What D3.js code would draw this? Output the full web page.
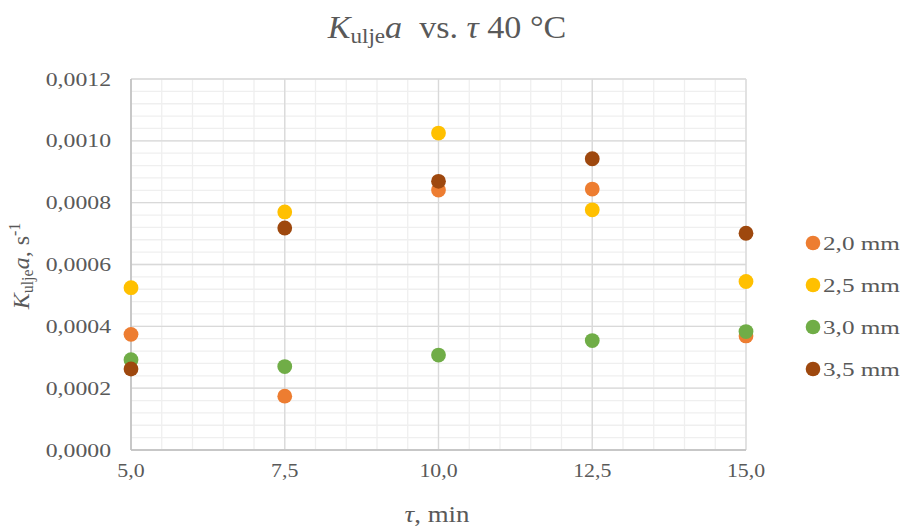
<!DOCTYPE html>
<html>
<head>
<meta charset="utf-8">
<script src="https://cdn.jsdelivr.net/npm/d3@7"></script>
<style>
  html, body { margin: 0; padding: 0; background: #ffffff; }
  svg { display: block; font-family: "Liberation Serif", "Times New Roman", serif; }
</style>
</head>
<body>
<svg id="chart" width="902" height="528"></svg>
<script>
// ---- data ----
const times = [5.0, 7.5, 10.0, 12.5, 15.0];
const seriesNames = ["2,0 mm", "2,5 mm", "3,0 mm", "3,5 mm"];
const seriesColors = ["#ED7D31", "#FFC000", "#70AD47", "#9E480E"];
const s20 = [0.000374, 0.000174, 0.000841, 0.000844, 0.000369];
const s25 = [0.000525, 0.000770, 0.001025, 0.000777, 0.000545];
const s30 = [0.000292, 0.000270, 0.000307, 0.000354, 0.000383];
const s35 = [0.000262, 0.000718, 0.000869, 0.000942, 0.000701];
const xTicks = [5.0, 7.5, 10.0, 12.5, 15.0];
const xTickLabels = ["5,0", "7,5", "10,0", "12,5", "15,0"];
const yTicks = [0, 0.0002, 0.0004, 0.0006, 0.0008, 0.0010, 0.0012];
const yTickLabels = ["0,0000", "0,0002", "0,0004", "0,0006", "0,0008", "0,0010", "0,0012"];

const allSeries = [s20, s25, s30, s35];

// ---- layout ----
const svg = d3.select("#chart");
const plot = { left: 131, right: 746, top: 79, bottom: 450 };
const x = d3.scaleLinear().domain([5, 15]).range([plot.left, plot.right]);
const y = d3.scaleLinear().domain([0, 0.0012]).range([plot.bottom, plot.top]);
const textColor = "#595959";

function stretchedText(g, px, py, sx, anchor) {
  return g.append("text")
    .attr("transform", `translate(${px},${py}) scale(${sx},1)`)
    .attr("text-anchor", anchor)
    .attr("fill", textColor);
}

// minor gridlines
const xMinor = d3.range(5, 15.0001, 0.5);
const yMinor = d3.range(0, 0.00120001, 0.00004);
const grid = svg.append("g");
grid.selectAll("line.ymin").data(yMinor).enter().append("line")
  .attr("x1", plot.left).attr("x2", plot.right)
  .attr("y1", d => y(d)).attr("y2", d => y(d))
  .attr("stroke", "#EFEFEF").attr("stroke-width", 1.3);
grid.selectAll("line.xmin").data(xMinor).enter().append("line")
  .attr("y1", plot.top).attr("y2", plot.bottom)
  .attr("x1", d => x(d)).attr("x2", d => x(d))
  .attr("stroke", "#EFEFEF").attr("stroke-width", 1.3);
// major gridlines
grid.selectAll("line.ymaj").data(yTicks).enter().append("line")
  .attr("x1", plot.left).attr("x2", plot.right)
  .attr("y1", d => y(d)).attr("y2", d => y(d))
  .attr("stroke", "#D9D9D9").attr("stroke-width", 1.3);
grid.selectAll("line.xmaj").data(xTicks).enter().append("line")
  .attr("y1", plot.top).attr("y2", plot.bottom)
  .attr("x1", d => x(d)).attr("x2", d => x(d))
  .attr("stroke", "#D9D9D9").attr("stroke-width", 1.3);

// axes lines
svg.append("line").attr("x1", plot.left).attr("x2", plot.left)
  .attr("y1", plot.top).attr("y2", plot.bottom)
  .attr("stroke", "#BFBFBF").attr("stroke-width", 1.5);
svg.append("line").attr("x1", plot.left).attr("x2", plot.right)
  .attr("y1", plot.bottom).attr("y2", plot.bottom)
  .attr("stroke", "#BFBFBF").attr("stroke-width", 1.5);

// tick labels
const tickG = svg.append("g").attr("font-size", 19);
yTicks.forEach((t, i) => {
  stretchedText(tickG, 111, y(t) + 6.5, 1.25, "end").text(yTickLabels[i]);
});
xTicks.forEach((t, i) => {
  stretchedText(tickG, x(t), 477, 1.15, "middle").text(xTickLabels[i]);
});

// points
allSeries.forEach((vals, si) => {
  svg.append("g").selectAll("circle").data(vals).enter().append("circle")
    .attr("cx", (d, i) => x(times[i]))
    .attr("cy", d => y(d))
    .attr("r", 7.4)
    .attr("fill", seriesColors[si]);
});

// legend
const leg = svg.append("g");
seriesNames.forEach((n, i) => {
  const ly = 243 + i * 42;
  leg.append("circle").attr("cx", 813).attr("cy", ly).attr("r", 7.3).attr("fill", seriesColors[i]);
  stretchedText(leg, 823, ly + 6.5, 1.4, "start").attr("font-size", 18).text(n);
});

// title
const title = stretchedText(svg, 447, 38, 1.1, "middle").attr("font-size", 31);
title.append("tspan").attr("font-style", "italic").text("K");
title.append("tspan").attr("font-size", 21).attr("dy", 5).text("ulje");
title.append("tspan").attr("font-style", "italic").attr("dy", -5).text("a");
title.append("tspan").text("\u00a0 vs. ");
title.append("tspan").attr("font-style", "italic").text("\u03c4");
title.append("tspan").text(" 40 \u00b0C");

// x axis title
const xt = stretchedText(svg, 437, 522, 1.12, "middle").attr("font-size", 24);
xt.append("tspan").attr("font-style", "italic").text("\u03c4");
xt.append("tspan").text(", min");

// y axis title
const yt = svg.append("text")
  .attr("transform", "translate(29,266) rotate(-90)")
  .attr("text-anchor", "middle").attr("fill", textColor).attr("font-size", 24);
yt.append("tspan").attr("font-style", "italic").text("K");
yt.append("tspan").attr("font-size", 16).attr("dy", 4).text("ulje");
yt.append("tspan").attr("font-style", "italic").attr("dy", -4).text("a");
yt.append("tspan").text(", s");
yt.append("tspan").attr("font-size", 16).attr("dy", -9).text("-1");
</script>
</body>
</html>
